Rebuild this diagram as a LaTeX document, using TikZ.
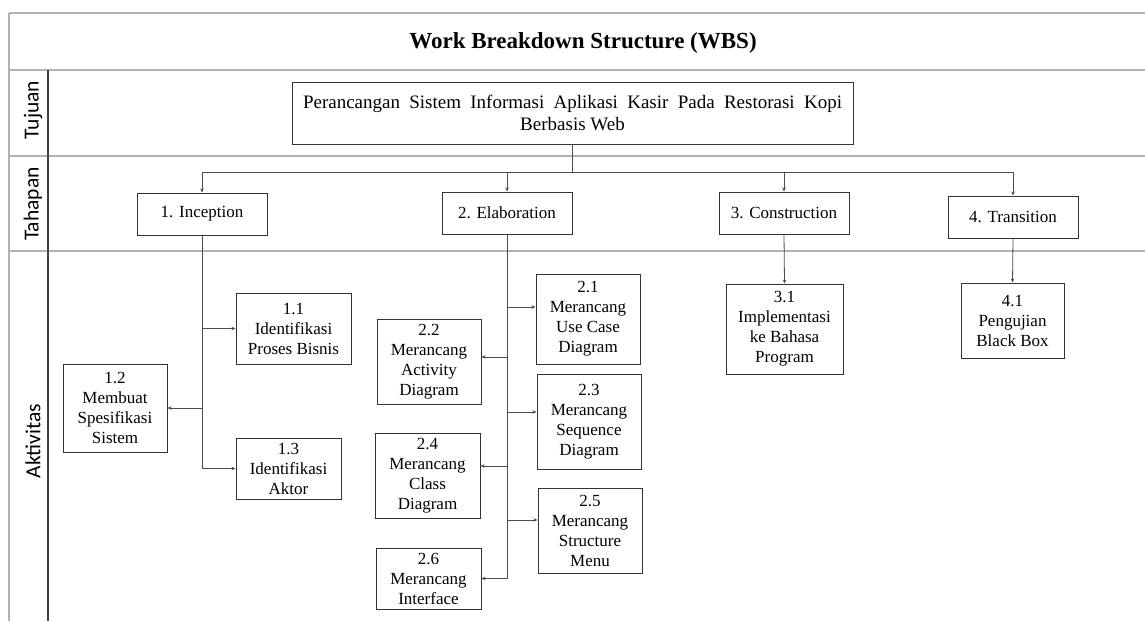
\documentclass[tikz,border=0pt]{standalone}
\usepackage{fontspec}
\setmainfont{Liberation Serif}
\newfontfamily\sidefont{Carlito}
\usetikzlibrary{arrows.meta}
\begin{document}
\begin{tikzpicture}[x=1pt,y=-1pt,
  frame/.style={draw=black!30, line width=1.2pt},
  divider/.style={draw=black!75, line width=1.3pt},
  box/.style={draw=black!80, line width=1pt, align=center, inner sep=0pt,
    font=\fontsize{17}{20}\selectfont},
  wire/.style={draw=black!70, line width=0.8pt},
  arr/.style={wire, -{Stealth[length=4pt,width=3.5pt]}},
  side/.style={rotate=90, font=\sidefont\fontsize{21.5}{24}\selectfont}]
\useasboundingbox (0,0) rectangle (1145,621);
\fill[white] (0,0) rectangle (1145,621);

% table frame
\draw[frame] (9,13) -- (1145,13);
\draw[frame] (9,70) -- (1145,70);
\draw[frame] (9,156) -- (1145,156);
\draw[frame] (9,251) -- (1145,251);
\draw[frame] (9,13) -- (9,621);
\draw[divider] (48,70) -- (48,621);

% headings
\node[font=\bfseries\fontsize{23}{26}\selectfont] (title) at (583,43) {Work Breakdown Structure (WBS)};
\node[side] (lTujuan) at (33,110) {Tujuan};
\node[side] (lTahapan) at (33,204) {Tahapan};
\node[side] (lAktivitas) at (33,441) {Aktivitas};

% goal
\node[box, font=\fontsize{19}{22}\selectfont, minimum width=561pt, minimum height=62pt] (goal) at (572.5,113)
  {\makebox[539pt][s]{Perancangan Sistem Informasi Aplikasi Kasir Pada Restorasi Kopi}\\Berbasis Web};

% phases
\node[box, minimum width=130pt, minimum height=42pt] (inc) at (202,214) {1. Inception};
\node[box, minimum width=130pt, minimum height=42pt] (ela) at (507,213) {2. Elaboration};
\node[box, minimum width=130pt, minimum height=42pt] (con) at (784,213) {3. Construction};
\node[box, minimum width=130pt, minimum height=42pt] (tra) at (1013,217) {4. Transition};

% activities
\node[box, minimum width=115pt, minimum height=71pt] (a11) at (293.5,328.5) {1.1\\Identifikasi\\Proses Bisnis};
\node[box, minimum width=104pt, minimum height=88pt] (a12) at (115,408) {1.2\\Membuat\\Spesifikasi\\Sistem};
\node[box, minimum width=105pt, minimum height=61pt] (a13) at (288.5,468.5) {1.3\\Identifikasi\\Aktor};

\node[box, minimum width=104pt, minimum height=90pt] (a21) at (588,319) {2.1\\Merancang\\Use Case\\Diagram};
\node[box, minimum width=104pt, minimum height=85pt] (a22) at (429,361.5) {2.2\\Merancang\\Activity\\Diagram};
\node[box, minimum width=104pt, minimum height=95pt] (a23) at (589,421.5) {2.3\\Merancang\\Sequence\\Diagram};
\node[box, minimum width=105pt, minimum height=85pt] (a24) at (427.5,475.5) {2.4\\Merancang\\Class\\Diagram};
\node[box, minimum width=104pt, minimum height=85pt] (a25) at (590,530.5) {2.5\\Merancang\\Structure\\Menu};
\node[box, minimum width=105pt, minimum height=61pt] (a26) at (428.5,578.5) {2.6\\Merancang\\Interface};

\node[box, minimum width=117pt, minimum height=90pt] (a31) at (784.5,329) {3.1\\Implementasi\\ke Bahasa\\Program};
\node[box, minimum width=103pt, minimum height=75pt] (a41) at (1012.5,320.5) {4.1\\Pengujian\\Black Box};

% goal to phases
\coordinate (busC) at (goal.south |- 0,172);
\coordinate (busL) at (inc.north |- busC);
\coordinate (busR) at (tra.north |- busC);
\draw[wire] (goal.south) -- (busC);
\draw[wire] (busL) -- (busR);
\draw[arr] (busL) -- (inc.north);
\draw[arr] (ela.north |- busC) -- (ela.north);
\draw[arr] (con.north |- busC) -- (con.north);
\draw[arr] (busR) -- (tra.north);

% inception activities
\draw[wire] (inc.south) -- (inc.south |- a13.west);
\draw[arr] (inc.south |- a11.west) -- (a11.west);
\draw[arr] (inc.south |- a12.east) -- (a12.east);
\draw[arr] (inc.south |- a13.west) -- (a13.west);

% elaboration activities
\draw[wire] (ela.south) -- (ela.south |- a26.east);
\draw[arr] ([yshift=12pt]a21.west -| ela.south) -- ([yshift=12pt]a21.west);
\draw[arr] ([yshift=4.5pt]a22.east -| ela.south) -- ([yshift=4.5pt]a22.east);
\draw[arr] ([yshift=9.5pt]a23.west -| ela.south) -- ([yshift=9.5pt]a23.west);
\draw[arr] ([yshift=9.5pt]a24.east -| ela.south) -- ([yshift=9.5pt]a24.east);
\draw[arr] ([yshift=10.5pt]a25.west -| ela.south) -- ([yshift=10.5pt]a25.west);
\draw[arr] (ela.south |- a26.east) -- (a26.east);

% construction and transition activities
\draw[arr] (con.south) -- (a31.north);
\draw[arr] (tra.south) -- (a41.north);
\end{tikzpicture}
\end{document}
